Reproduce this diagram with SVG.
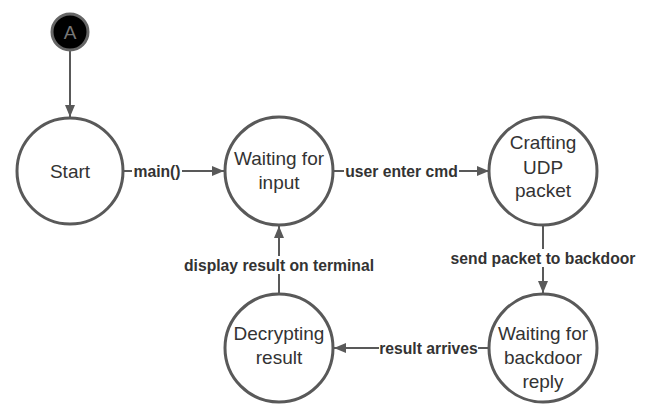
<svg xmlns="http://www.w3.org/2000/svg" width="655" height="418" viewBox="0 0 655 418">
<defs>
<marker id="arr" viewBox="0 0 12 10" refX="12" refY="5" markerWidth="12" markerHeight="10" markerUnits="userSpaceOnUse" orient="auto">
<path d="M0,0 L12,5 L0,10 Z" fill="#595959"/>
</marker>
</defs>
<style>
.node{fill:#ffffff;stroke:#595959;stroke-width:3}
.nt{font-family:"Liberation Sans",Arial,sans-serif;font-size:19px;fill:#333333;text-anchor:middle}
.edge{stroke:#595959;stroke-width:2;fill:none}
.lbl{font-family:"Liberation Sans",Arial,sans-serif;font-size:15.7px;font-weight:bold;fill:#333333;text-anchor:middle}
.bg{fill:#ffffff}
</style>
<rect width="655" height="418" fill="#ffffff"/>
<g id="connectors">
<line class="edge" x1="70" y1="51" x2="70" y2="117" marker-end="url(#arr)"/>
<line class="edge" x1="124" y1="171" x2="224" y2="171" marker-end="url(#arr)"/>
<line class="edge" x1="334" y1="171" x2="489" y2="171" marker-end="url(#arr)"/>
<line class="edge" x1="543" y1="226" x2="543" y2="293" marker-end="url(#arr)"/>
<line class="edge" x1="489" y1="348" x2="334" y2="348" marker-end="url(#arr)"/>
<line class="edge" x1="279" y1="294" x2="279" y2="226" marker-end="url(#arr)"/>
<rect class="bg" x="132" y="162" width="50" height="18"/>
<text class="lbl" x="157" y="176.5">main()</text>
<rect class="bg" x="344" y="162" width="115" height="18"/>
<text class="lbl" x="401.5" y="176.5">user enter cmd</text>
<rect class="bg" x="450" y="249" width="187" height="18"/>
<text class="lbl" x="543" y="263.5">send packet to backdoor</text>
<rect class="bg" x="379" y="339" width="99" height="18"/>
<text class="lbl" x="428.5" y="353.5">result arrives</text>
<rect class="bg" x="184" y="256" width="190" height="18"/>
<text class="lbl" x="279" y="270.5">display result on terminal</text>
</g>
<g id="node-A">
<circle cx="70" cy="32" r="18" fill="#000000" stroke="#666666" stroke-width="3"/>
<text x="70" y="39" font-family="Liberation Sans,Arial,sans-serif" font-size="19" fill="#777777" text-anchor="middle">A</text>
</g>
<g id="node-start">
<circle class="node" cx="70" cy="171" r="53"/>
<text class="nt" x="70" y="178">Start</text>
</g>
<g id="node-waiting-input">
<circle class="node" cx="279" cy="171" r="54"/>
<text class="nt" x="279" y="165">Waiting for</text>
<text class="nt" x="279" y="189">input</text>
</g>
<g id="node-crafting">
<circle class="node" cx="543" cy="171" r="54"/>
<text class="nt" x="543" y="149">Crafting</text>
<text class="nt" x="543" y="174">UDP</text>
<text class="nt" x="543" y="197">packet</text>
</g>
<g id="node-waiting-backdoor">
<circle class="node" cx="543" cy="348" r="54"/>
<text class="nt" x="543" y="340">Waiting for</text>
<text class="nt" x="543" y="364">backdoor</text>
<text class="nt" x="543" y="388">reply</text>
</g>
<g id="node-decrypting">
<circle class="node" cx="279" cy="348" r="54"/>
<text class="nt" x="279" y="340">Decrypting</text>
<text class="nt" x="279" y="364">result</text>
</g>
</svg>
